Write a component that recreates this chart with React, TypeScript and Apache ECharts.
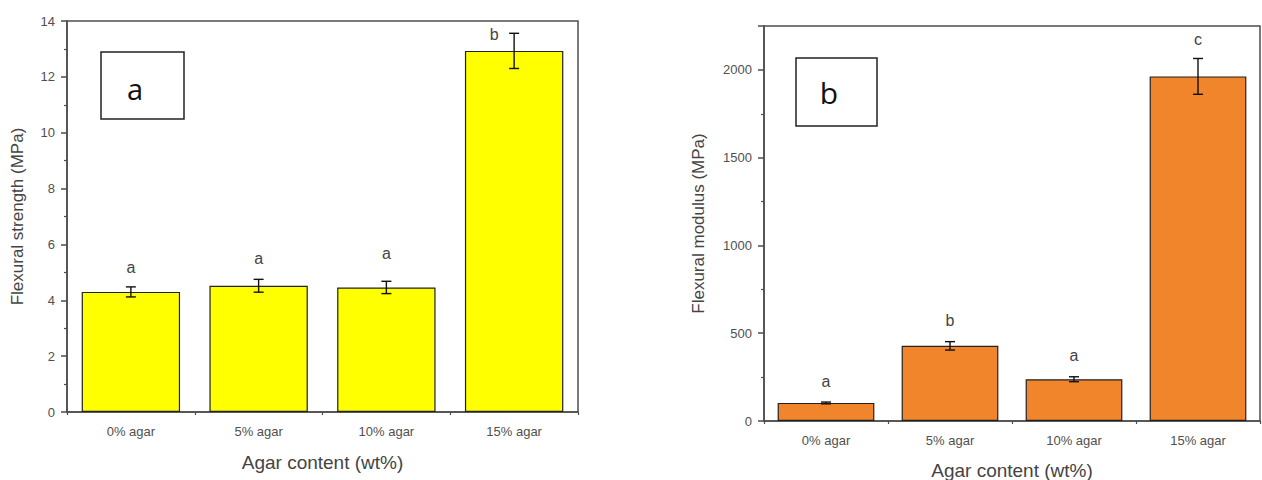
import React, { useEffect, useRef } from "react";
import * as echarts from "echarts";

const categories = ["0% agar", "5% agar", "10% agar", "15% agar"];

const strengthMean = [4.3, 4.52, 4.46, 12.93];
const strengthErr = [0.18, 0.23, 0.22, 0.63];
const strengthLetters = ["a", "a", "a", "b"];
const strengthLetterAt = [5.19, 5.51, 5.67, 13.51];
const strengthTicks = [0, 2, 4, 6, 8, 10, 12, 14];

const modulusMean = [103, 428, 238, 1963];
const modulusErr = [5, 24, 14, 102];
const modulusLetters = ["a", "b", "a", "c"];
const modulusLetterAt = [226, 570, 375, 2171];
const modulusTicks = [0, 500, 1000, 1500, 2000];

const AXIS = "#4d4d4d";
const LABEL = "#505050";
const FONT = "'Liberation Sans', Arial, sans-serif";

function errorSeries(gridIdx: number, means: number[], errs: number[]) {
  return {
    type: "custom",
    xAxisIndex: gridIdx * 2,
    yAxisIndex: gridIdx,
    z: 5,
    data: means.map((m, i) => [i, m - errs[i], m + errs[i]]),
    renderItem: (params: any, api: any) => {
      const lo = api.coord([api.value(0), api.value(1)]);
      const hi = api.coord([api.value(0), api.value(2)]);
      const w = 5;
      const st = { stroke: "#111", lineWidth: 1.4 };
      return {
        type: "group",
        children: [
          { type: "line", shape: { x1: lo[0], y1: lo[1], x2: hi[0], y2: hi[1] }, style: st },
          { type: "line", shape: { x1: lo[0] - w, y1: lo[1], x2: lo[0] + w, y2: lo[1] }, style: st },
          { type: "line", shape: { x1: hi[0] - w, y1: hi[1], x2: hi[0] + w, y2: hi[1] }, style: st },
        ],
      };
    },
  };
}

function letterSeries(gridIdx: number, letters: string[], at: number[], dx: number[]) {
  return {
    type: "custom",
    xAxisIndex: gridIdx * 2,
    yAxisIndex: gridIdx,
    z: 6,
    data: at.map((v, i) => [i, v]),
    renderItem: (params: any, api: any) => {
      const p = api.coord([api.value(0), api.value(1)]);
      const i = params.dataIndex;
      return {
        type: "text",
        x: p[0] + dx[i],
        y: p[1],
        style: {
          text: letters[i],
          fill: "#444",
          font: `16px ${FONT}`,
          align: "center",
          verticalAlign: "middle",
        },
      };
    },
  };
}

function xAxes(gridIdx: number, nameGap: number) {
  return [
    {
      type: "category",
      gridIndex: gridIdx,
      data: categories,
      position: "bottom",
      name: "Agar content (wt%)",
      nameLocation: "middle",
      nameGap,
      nameTextStyle: { color: "#444", fontSize: 19, fontFamily: FONT },
      axisLine: { lineStyle: { color: AXIS, width: 1.5 } },
      axisTick: { alignWithLabel: true, length: 6, lineStyle: { color: AXIS, width: 1.5 } },
      axisLabel: { color: LABEL, fontSize: 13, fontFamily: FONT, margin: 13 },
      splitLine: { show: false },
    },
    {
      type: "category",
      gridIndex: gridIdx,
      data: categories,
      position: "bottom",
      offset: 0,
      axisLine: { show: false },
      axisTick: { show: true, length: 3, lineStyle: { color: AXIS, width: 1.2 } },
      axisLabel: { show: false },
      splitLine: { show: false },
    },
  ];
}

function yAxis(gridIdx: number, ticks: number[], max: number, name: string, nameGap: number) {
  const interval = ticks[1] - ticks[0];
  return {
    type: "value",
    gridIndex: gridIdx,
    min: ticks[0],
    max,
    interval,
    name,
    nameLocation: "middle",
    nameGap,
    nameTextStyle: { color: "#444", fontSize: 17, fontFamily: FONT },
    axisLine: { show: true, lineStyle: { color: AXIS, width: 1.5 } },
    axisTick: { show: true, length: 6, lineStyle: { color: AXIS, width: 1.5 } },
    minorTick: { show: true, splitNumber: 2, length: 3, lineStyle: { color: AXIS, width: 1.2 } },
    axisLabel: {
      color: LABEL,
      fontSize: 13,
      fontFamily: FONT,
      margin: 12,
      formatter: (v: number) => (ticks.indexOf(v) >= 0 ? String(v) : ""),
    },
    splitLine: { show: false },
    minorSplitLine: { show: false },
  };
}

export default function App() {
  const ref = useRef<HTMLDivElement>(null);
  useEffect(() => {
    document.body.style.margin = "0";
    const chart = echarts.init(ref.current!, null, { renderer: "svg" });
    const option: any = {
      animation: false,
      backgroundColor: "#ffffff",
      grid: [
        { left: 67, top: 21, width: 511, height: 391, outerBoundsMode: "none", containLabel: false, show: true, borderColor: AXIS, borderWidth: 1.5, backgroundColor: "transparent" },
        { left: 764, top: 26, width: 496, height: 395, outerBoundsMode: "none", containLabel: false, show: true, borderColor: AXIS, borderWidth: 1.5, backgroundColor: "transparent" },
      ],
      xAxis: [...xAxes(0, 41), ...xAxes(1, 40)],
      yAxis: [
        yAxis(0, strengthTicks, 14, "Flexural strength (MPa)", 41),
        yAxis(1, modulusTicks, 2250, "Flexural modulus (MPa)", 57),
      ],
      series: [
        {
          type: "bar",
          xAxisIndex: 0,
          yAxisIndex: 0,
          data: strengthMean,
          barWidth: "77%",
          itemStyle: { color: "#FFFF00", borderColor: "#222", borderWidth: 1.2 },
        },
        errorSeries(0, strengthMean, strengthErr),
        letterSeries(0, strengthLetters, strengthLetterAt, [0, 0, 0, -20]),
        {
          type: "bar",
          xAxisIndex: 2,
          yAxisIndex: 1,
          data: modulusMean,
          barWidth: "78%",
          itemStyle: { color: "#F0852B", borderColor: "#222", borderWidth: 1.2 },
        },
        errorSeries(1, modulusMean, modulusErr),
        letterSeries(1, modulusLetters, modulusLetterAt, [0, 0, 0, 0]),
      ],
      graphic: [
        {
          type: "rect",
          shape: { x: 101, y: 52, width: 83, height: 67 },
          style: { fill: "#fff", stroke: "#222", lineWidth: 1.5 },
          z: 10,
        },
        {
          type: "text",
          x: 135,
          y: 88,
          style: { text: "a", font: `29px 'Open Sans', sans-serif`, fill: "#111", align: "center", verticalAlign: "middle" },
          z: 11,
        },
        {
          type: "rect",
          shape: { x: 796, y: 58, width: 81, height: 68 },
          style: { fill: "#fff", stroke: "#222", lineWidth: 1.5 },
          z: 10,
        },
        {
          type: "text",
          x: 829,
          y: 92,
          style: { text: "b", font: `30px 'Open Sans', sans-serif`, fill: "#111", align: "center", verticalAlign: "middle" },
          z: 11,
        },
      ],
    };
    chart.setOption(option);
    return () => chart.dispose();
  }, []);
  return <div ref={ref} style={{ width: 1262, height: 480 }} />;
}
